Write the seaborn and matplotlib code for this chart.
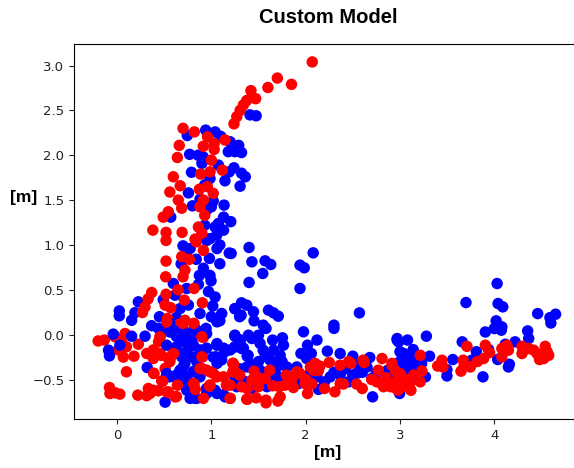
import numpy as np
import pandas as pd
import matplotlib
matplotlib.use("Agg")
import matplotlib.pyplot as plt
import seaborn as sns

# values, grouped so the overlap order can be kept
blue_back_x = [1.41, 1.475, 0.745, 0.94, 1.04, 1.10, 1.20, 1.29, 1.18, 1.25, 1.32, 0.77, 0.86, 0.915, 0.90, 1.075, 1.24, 1.19, 1.32, 1.36, 1.145, 1.305, 0.79, 0.986, 0.93, 0.757, 0.88, 0.80, 1.135, 1.02, 1.0, 0.95, 0.57, 1.13, 1.075, 1.206, 1.04, 1.13, 0.93, 1.057, 0.986, 0.70, 0.775, 0.74, 0.84, 0.68, 0.98, 1.09, 1.19, 1.06, 0.95, 1.09, 0.916, 0.873, 0.986, 0.997, 0.597, 0.863, 0.74, 0.615, 0.97, 1.04, 0.49, 0.226, 0.19, 0.024, 0.024, 0.155, 0.45, 0.367, 0.668, 0.757, 0.88, 1.015, 1.0, 1.11, 1.09, 0.63, 0.944, 0.474, 1.25, 1.3]
blue_back_y = [2.45, 2.44, 2.22, 2.28, 2.26, 2.21, 2.15, 2.11, 2.04, 2.04, 2.03, 2.01, 2.00, 1.98, 1.91, 1.89, 1.86, 1.815, 1.80, 1.76, 1.715, 1.655, 1.81, 1.74, 1.67, 1.58, 1.51, 1.436, 1.444, 1.49, 1.425, 1.39, 1.31, 1.31, 1.24, 1.26, 1.20, 1.165, 1.22, 1.11, 1.07, 0.99, 0.96, 0.875, 0.84, 0.79, 0.85, 0.79, 0.91, 0.96, 1.05, 1.0, 0.74, 0.66, 0.66, 0.60, 0.57, 0.56, 0.515, 0.44, 0.48, 0.42, 0.39, 0.366, 0.245, 0.265, 0.21, 0.16, 0.2, 0.10, 0.29, 0.33, 0.236, 0.32, 0.2, 0.236, 0.155, 0.19, 0.07, 0.06, 0.29, 0.2]

red_x = [2.07, 1.70, 1.85, 1.60, 1.42, 1.47, 1.43, 1.375, 1.34, 1.305, 1.27, 1.24, 0.70, 0.82, 0.96, 0.915, 1.03, 1.03, 1.145, 0.66, 0.64, 1.0, 0.887, 0.986, 1.117, 0.597, 0.67, 0.56, 0.873, 0.958, 1.02, 0.65, 0.686, 0.916, 0.88, 0.93, 0.544, 0.49, 0.38, 0.52, 0.69, 0.863, 0.90, 0.827, 0.52, 0.84, 0.916, 0.52, 0.686, 0.767, 0.516, 0.72, 0.70, 0.647, 0.817, 0.368, 0.33, 0.297, 0.27, 0.52, 0.51, 0.57, 0.714, 0.905, 0.534, 0.544, 0.72, 0.66, 0.817, 0.916, -0.2, -0.135, -0.02, 0.085, 0.05, 0.10, 0.014, 0.067, 0.18, 0.226, 0.456, 0.44, 0.315, 0.385, 0.456, 0.544, 0.58, 0.56, 0.91, 0.10, 0.51, 0.39, 0.474]
red_y = [3.04, 2.86, 2.79, 2.755, 2.72, 2.63, 2.65, 2.61, 2.56, 2.50, 2.43, 2.35, 2.30, 2.26, 2.205, 2.10, 2.13, 2.065, 2.17, 2.11, 1.975, 1.945, 1.79, 1.815, 1.834, 1.76, 1.66, 1.59, 1.62, 1.65, 1.575, 1.50, 1.41, 1.50, 1.425, 1.33, 1.37, 1.31, 1.165, 1.14, 1.14, 1.20, 1.13, 1.065, 1.05, 1.035, 0.94, 0.82, 0.87, 0.84, 0.645, 0.72, 0.645, 0.50, 0.515, 0.47, 0.40, 0.31, 0.247, 0.45, 0.33, 0.30, 0.385, 0.355, 0.18, 0.115, 0.16, 0.115, 0.125, -0.03, -0.07, -0.06, -0.024, 0.013, -0.08, -0.135, -0.17, -0.25, -0.24, -0.106, -0.024, -0.08, -0.21, -0.266, -0.21, -0.266, -0.23, -0.30, -0.247, -0.414, -0.377, -0.433, -0.515]

blue_front_x = [1.25, 0.56, 0.72, 0.845, 0.297, 0.155, -0.04, 0.03, -0.09, -0.08, 0.32, 0.51, 0.775, 0.827, 1.05, 1.145, 1.25, 1.057, 0.74, 0.81, 0.74, 0.686, 0.526, 0.63, 0.72, 0.845, 0.615, 0.72, 0.668, 0.81, 0.526, 1.06, 1.145, 0.95, 1.27, 0.74, 1.27, 1.06, 1.40, 1.21, 1.43, 1.57, 1.63, 1.545, 1.40, 2.08, 1.94, 1.985, 1.94, 2.57, 2.30, 2.30, 1.32, 1.25, 1.376, 1.316, 1.447, 1.453, 1.606, 1.66, 1.71, 1.55, 1.58, 1.977, 1.25, 1.393, 1.50, 1.31, 1.43, 1.65, 1.754, 1.765, 1.517, 1.25, 1.32, 1.55, 1.66, 2.12, 2.02, 2.06, 1.95, 2.23, 2.366, 2.50, 2.68, 2.97, 3.0, 1.38, 1.73, 1.71, 1.57, 2.01, 1.50, 1.376, 1.25, 1.695, 1.71, 1.43, 1.59, 1.906, 1.924, 2.136, 2.2, 2.26, 2.366, 2.455, 2.56, 2.65, 2.54, 2.70, 2.87, 2.71, 3.0, 4.03, 3.70, 4.04, 4.09, 4.46, 4.65, 4.59, 4.60, 4.02, 4.08, 4.075, 4.0, 3.905, 4.354, 4.365, 4.22, 3.66, 2.97, 2.985, 3.08, 3.28, 3.04, 3.14, 3.02, 3.09, 3.145, 3.314, 3.23, 3.27, 3.127, 2.996, 3.56, 3.498, 3.498, 3.88, 4.16, 4.15, 3.81, 3.94, 3.76, 4.036, 4.117, 0.70, 0.81, 0.63, 0.6, 0.77, 0.70, 0.88, 0.81, 0.95, 1.06, 1.13, 1.2, 1.02, 0.70, 0.63, 0.74, 0.56, 0.81, 0.88, 0.70, 0.79, 0.845, 1.04, 1.13, 0.95, 1.06, 1.25, 1.29, 1.34, 1.39, 1.11, 0.44, 0.56, 0.70, 0.81, 0.95, 1.3, 1.42, 1.52, 1.62, 1.8, 1.85, 2.03, 2.12, 2.3, 2.42, 2.5, 2.6, 2.75, 2.85, 2.95, 1.35, 1.62, 1.75, 3.05, 3.1, 3.12, 3.2, 3.0, 3.08]
blue_front_y = [-0.013, 0.03, 0.013, 0.05, -0.017, -0.017, 0.006, -0.117, -0.173, -0.236, -0.366, -0.752, -0.71, -0.71, -0.247, -0.19, -0.136, -0.117, -0.10, -0.117, -0.21, -0.247, -0.117, -0.136, -0.32, -0.30, -0.47, -0.47, -0.396, -0.414, -0.433, -0.656, -0.693, -0.656, -0.58, -0.62, -0.47, -0.32, 0.972, 0.905, 0.812, 0.823, 0.782, 0.682, 0.582, 0.912, 0.775, 0.745, 0.515, 0.243, 0.106, 0.07, 0.355, 0.29, 0.329, 0.217, 0.255, 0.154, 0.273, 0.243, 0.206, 0.106, 0.07, 0.032, -0.017, -0.006, -0.006, -0.06, -0.043, -0.06, -0.035, -0.117, -0.098, -0.136, -0.154, -0.173, -0.173, -0.06, -0.117, -0.21, -0.21, -0.184, -0.21, -0.24, -0.255, -0.043, -0.19, -0.24, -0.23, -0.30, -0.24, -0.266, -0.30, -0.36, -0.47, -0.36, -0.47, -0.60, -0.58, -0.36, -0.545, -0.61, -0.526, -0.47, -0.45, -0.526, -0.34, -0.36, -0.433, -0.489, -0.396, -0.693, -0.30, 0.57, 0.358, 0.347, 0.31, 0.235, 0.228, 0.19, 0.13, 0.154, 0.087, 0.05, 0.068, 0.03, 0.042, -0.043, -0.08, -0.08, -0.06, -0.08, -0.06, -0.017, -0.21, -0.166, -0.285, -0.285, -0.36, -0.24, -0.32, -0.47, -0.508, -0.656, -0.277, -0.39, -0.46, -0.47, -0.33, -0.36, -0.19, -0.166, -0.285, -0.277, -0.107, -0.06, -0.02, -0.02, 0.05, -0.135, -0.21, -0.17, -0.25, -0.15, -0.1, -0.15, -0.17, -0.25, -0.36, -0.45, -0.47, -0.47, -0.41, -0.47, -0.56, -0.69, -0.71, -0.62, -0.67, -0.6, 0.143, -0.005, -0.1, -0.15, -0.23, -0.28, 0.07, 0.125, 0.05, 0.05, 0.013, -0.38, -0.33, -0.4, -0.5, -0.36, -0.48, -0.45, -0.47, -0.42, -0.38, -0.45, -0.42, -0.42, -0.5, -0.45, -0.52, -0.28, -0.3, -0.3, -0.25, -0.32, -0.28, -0.37, -0.42]

red_top_x = [-0.08, -0.075, -0.02, 0.03, 0.22, 0.332, 0.35, 0.315, 0.44, 0.544, 0.615, 0.64, 0.817, 0.83, 0.98, 0.90, 0.986, 1.06, 1.16, 1.2, 0.916, 1.23, 1.23, 1.234, 1.25, 1.453, 1.62, 1.57, 1.43, 1.32, 1.2, 1.5, 1.793, 1.906, 1.94, 1.78, 1.87, 1.73, 1.705, 1.58, 1.58, 1.475, 1.383, 1.2, 2.02, 1.995, 2.065, 2.1, 2.083, 2.136, 2.25, 2.366, 2.455, 2.61, 2.31, 2.366, 2.54, 2.60, 2.81, 2.77, 2.915, 2.755, 2.825, 2.9, 2.985, 2.97, 3.71, 3.905, 3.95, 3.887, 3.82, 3.67, 3.68, 3.647, 3.746, 3.445, 3.40, 3.456, 3.215, 3.233, 3.215, 3.116, 3.0, 2.985, 2.93, 2.96, 3.02, 3.145, 4.08, 4.135, 4.15, 4.08, 4.294, 4.294, 4.365, 4.418, 4.453, 4.48, 4.54, 4.56, 4.577, 4.524, 2.915, 0.456, 0.90, 0.385, 0.47, 0.6, 0.56, 0.9, 0.39, 0.484, 0.385, 0.53, 0.63, 0.81, 0.88, 0.95, 1.02, 1.13, 1.23, 1.23, 1.18, 1.375, 0.986, 0.70, 0.81, 0.527, 1.3, 1.38, 1.5, 1.65, 1.72, 1.85, 2.0, 2.05, 2.15, 2.2, 2.4, 2.48, 2.62, 2.7, 2.85, 2.95, 2.9, 3.05, 2.98, 3.02, 3.1]
red_top_y = [-0.589, -0.656, -0.648, -0.663, -0.674, -0.60, -0.656, -0.68, -0.626, -0.637, -0.693, -0.563, -0.55, -0.61, -0.574, -0.377, -0.414, -0.47, -0.563, -0.71, -0.71, -0.32, -0.414, -0.33, -0.414, -0.407, -0.396, -0.489, -0.507, -0.58, -0.563, -0.58, -0.45, -0.414, -0.433, -0.563, -0.589, -0.693, -0.74, -0.73, -0.76, -0.704, -0.719, -0.71, -0.656, -0.545, -0.55, -0.32, -0.396, -0.40, -0.31, -0.34, -0.30, -0.284, -0.637, -0.545, -0.55, -0.60, -0.266, -0.396, -0.32, -0.526, -0.58, -0.545, -0.58, -0.507, -0.13, -0.118, -0.20, -0.266, -0.30, -0.285, -0.35, -0.407, -0.36, -0.285, -0.35, -0.36, -0.23, -0.404, -0.526, -0.62, -0.434, -0.545, -0.545, -0.60, -0.58, -0.45, -0.155, -0.118, -0.173, -0.248, -0.13, -0.21, -0.155, -0.173, -0.21, -0.277, -0.13, -0.19, -0.23, -0.266, -0.34, -0.024, -0.024, -0.17, -0.23, -0.21, -0.28, -0.247, -0.43, -0.52, -0.62, -0.64, -0.69, -0.545, -0.377, -0.395, -0.43, -0.47, -0.32, -0.415, -0.56, -0.72, -0.56, 0.125, 0.125, 0.143, -0.45, -0.6, -0.48, -0.57, -0.58, -0.5, -0.5, -0.36, -0.35, -0.6, -0.55, -0.32, -0.31, -0.5, -0.48, -0.4, -0.58, -0.5, -0.62, -0.47, -0.55]

df = pd.DataFrame({
    "x": blue_back_x + red_x + blue_front_x + red_top_x,
    "y": blue_back_y + red_y + blue_front_y + red_top_y,
    "cls": ["b"] * len(blue_back_x) + ["r"] * len(red_x) + ["b"] * len(blue_front_x) + ["r"] * len(red_top_x),
})

fig = plt.figure(figsize=(5.74, 4.68), dpi=100)
# axes run past the right edge, the reference is cropped there
ax = fig.add_axes([74 / 574, 1 - 419 / 468, 508 / 574, 375 / 468])

sns.scatterplot(data=df, x="x", y="y", hue="cls", palette={"b": "blue", "r": "red"},
                s=68, linewidth=0, legend=False, ax=ax)

ax.set_xlim(-0.456, 4.93)
ax.set_ylim(-0.94, 3.24)
ax.set_xticks([0, 1, 2, 3, 4])
ax.set_yticks(np.arange(-0.5, 3.5, 0.5))
ax.tick_params(labelsize=9.5, colors="#222222")
ax.set_xlabel("[m]", fontsize=12.5, fontweight="bold", family="Liberation Sans", labelpad=2)
ax.set_ylabel("[m]", fontsize=12.5, fontweight="bold", family="Liberation Sans", rotation=0, va="center")
ax.yaxis.set_label_coords(-0.0985, 0.59)
ax.set_title("Custom Model", fontsize=14.5, fontweight="bold", family="Liberation Sans", pad=15)

plt.savefig("out.png", dpi=100)
